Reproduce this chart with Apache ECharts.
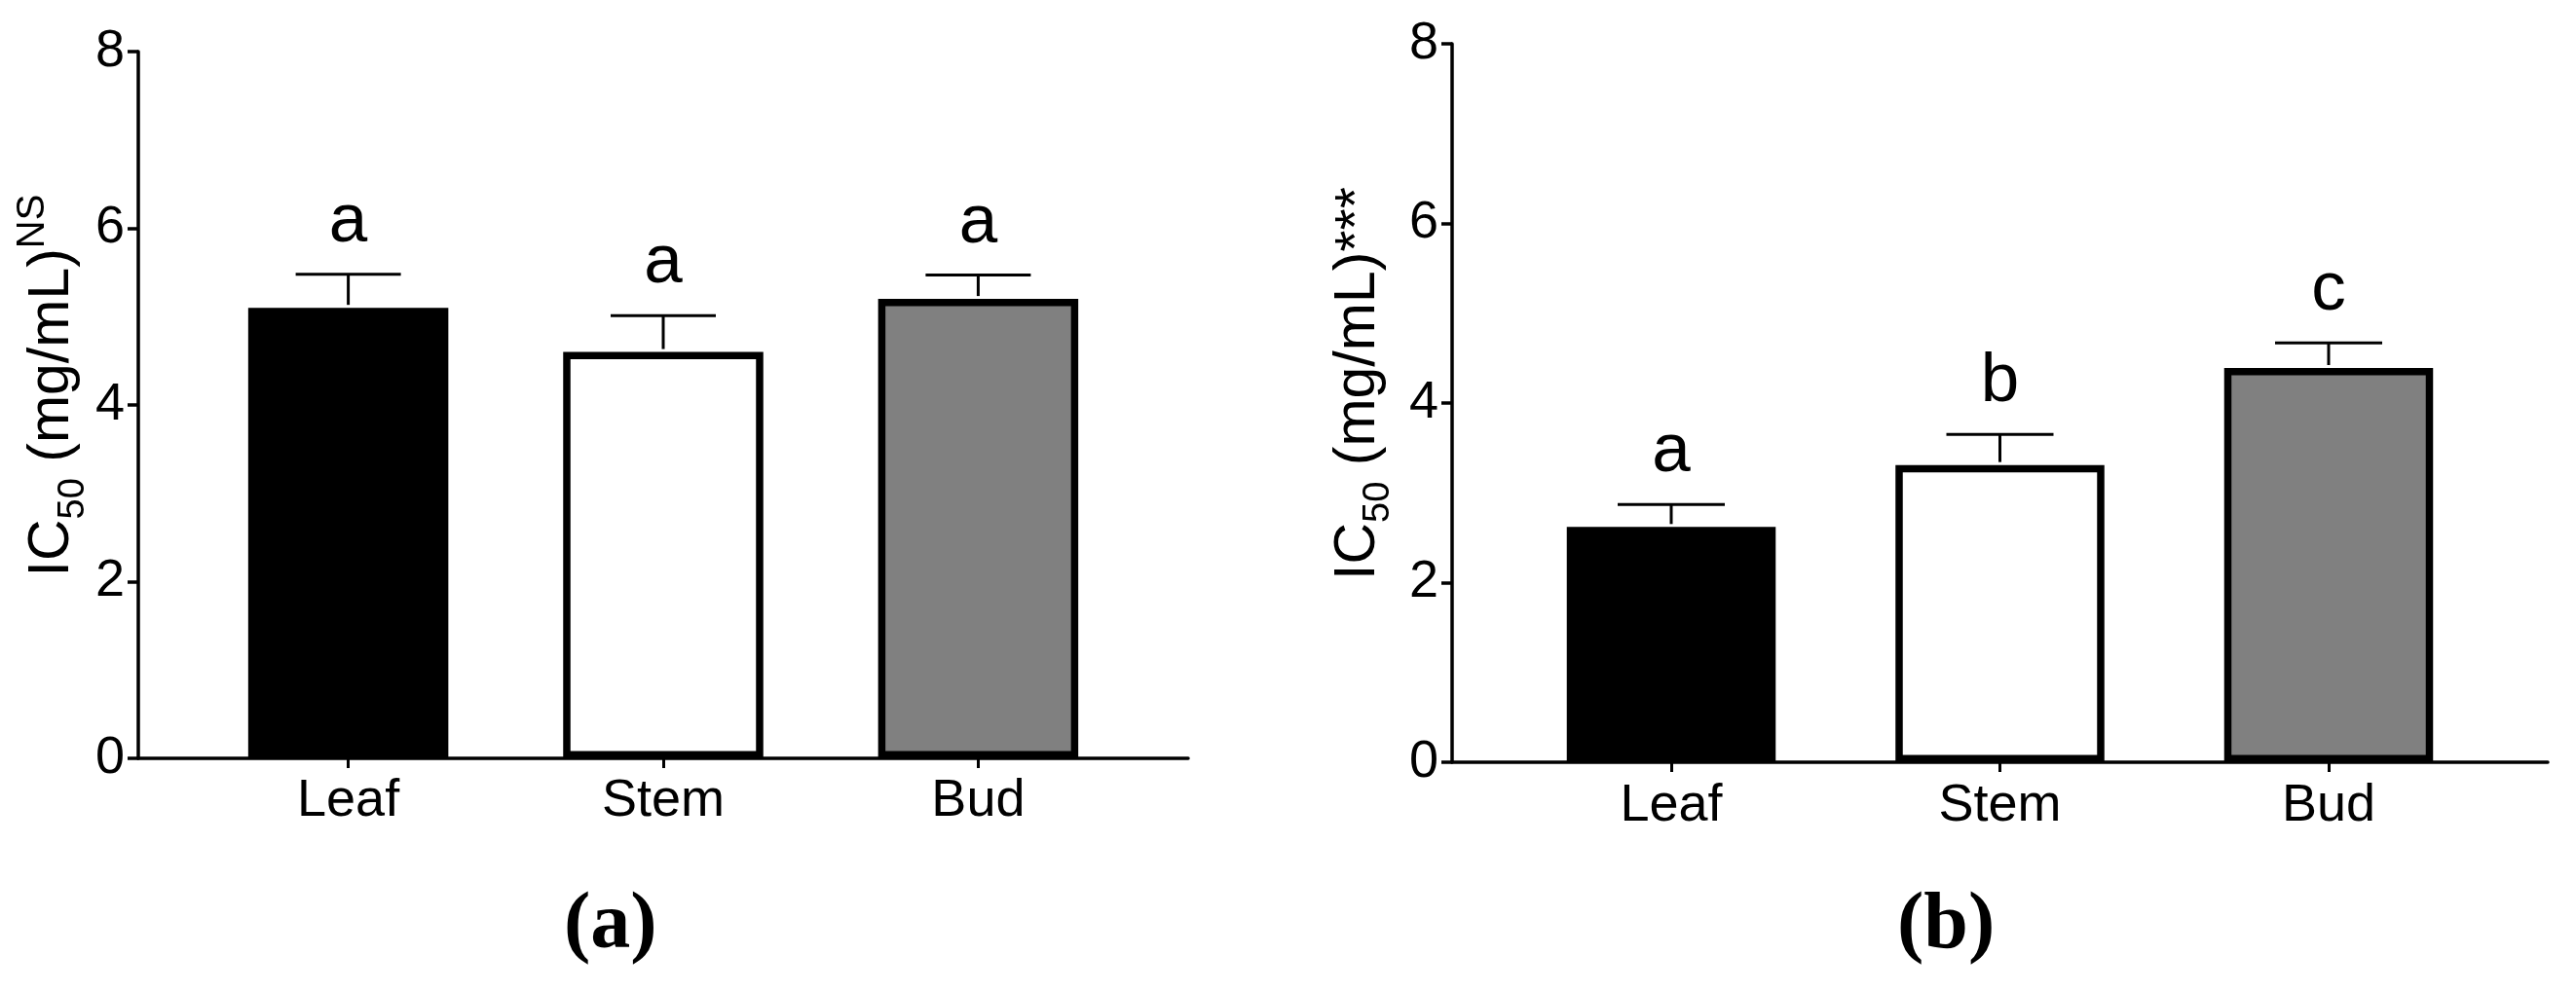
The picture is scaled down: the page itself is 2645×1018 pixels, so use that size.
<!DOCTYPE html>
<html>
<head>
<meta charset="utf-8">
<script src="https://cdn.jsdelivr.net/npm/echarts@6/dist/echarts.min.js"></script>
<style>
html,body{margin:0;padding:0;background:#fff;}
#chart{width:2645px;height:1018px;}
</style>
</head>
<body>
<div id="chart"></div>
<script>
// ---- data ----
const categories = ['Leaf', 'Stem', 'Bud'];
const catPositions = [1, 2, 3];
const yTickValues = [0, 2, 4, 6, 8];

const meanA = [5.10, 4.60, 5.20];
const semA = [0.38, 0.41, 0.27];
const lettersA = ['a', 'a', 'a'];

const meanB = [2.62, 3.31, 4.39];
const semB = [0.25, 0.34, 0.28];
const lettersB = ['a', 'b', 'c'];

const panelLabels = ['(a)', '(b)'];

// ---- chart ----
const FONT = "'Liberation Sans', Arial, Helvetica, sans-serif";
const SERIF = "'Liberation Serif', 'Times New Roman', serif";
const barFills = ['#000000', '#ffffff', '#808080'];

const chart = echarts.init(document.getElementById('chart'), null, {renderer: 'canvas'});

function yAxisCfg(gridIndex, supText, supStyle, gap) {
  return {
    type: 'value', gridIndex: gridIndex, min: yTickValues[0], max: yTickValues[yTickValues.length - 1], interval: 2,
    axisLine: {show: true, onZero: false, lineStyle: {color: '#000', width: 3.5}},
    axisTick: {show: true, inside: false, length: 11, lineStyle: {color: '#000', width: 3.5}},
    axisLabel: {show: true, margin: 14, color: '#000', fontSize: 54, fontFamily: FONT},
    splitLine: {show: false},
    name: '{m|IC}{sub|50}{m| (mg/mL)}{' + supStyle + '|' + supText + '}',
    nameLocation: 'middle',
    nameRotate: 90,
    nameGap: gap,
    nameTextStyle: {
      color: '#000', fontFamily: FONT, fontSize: 59, padding: [0, 0, 0, 40],
      rich: {
        m: {fontSize: 59, fontFamily: FONT, color: '#000', lineHeight: 80, verticalAlign: 'middle'},
        sub: {fontSize: 38, fontFamily: FONT, color: '#000', verticalAlign: 'bottom'},
        sup: {fontSize: 40, fontFamily: FONT, color: '#000', verticalAlign: 'top'},
        ast: {fontSize: 57, fontFamily: FONT, color: '#000', verticalAlign: 'middle'}
      }
    }
  };
}

function xAxisCfg(gridIndex, margin) {
  return {
    type: 'value', gridIndex: gridIndex, min: 1 / 3, max: 11 / 3,
    axisLine: {show: true, onZero: false, lineStyle: {color: '#000', width: 3.5}},
    axisTick: {show: true, inside: false, length: 10, customValues: catPositions, lineStyle: {color: '#000', width: 3}},
    axisLabel: {
      show: true, margin: margin, color: '#000', fontSize: 54, fontFamily: FONT,
      customValues: catPositions, verticalAlign: 'top',
      formatter: function (v) { const i = catPositions.indexOf(Math.round(v)); return i >= 0 ? categories[i] : ''; }
    },
    splitLine: {show: false}
  };
}

function barSeries(idx, means, barWidth) {
  return {
    type: 'bar', xAxisIndex: idx, yAxisIndex: idx,
    barWidth: barWidth,
    data: means.map(function (m, i) {
      return {
        value: [catPositions[i], m],
        itemStyle: {color: barFills[i], borderColor: '#000', borderWidth: 7.5}
      };
    }),
    emphasis: {disabled: true},
    z: 2
  };
}

function errSeries(idx, means, sems, letters, capWidth) {
  return {
    type: 'custom', xAxisIndex: idx, yAxisIndex: idx, clip: false, z: 3,
    data: means.map(function (m, i) { return [catPositions[i], m, m + sems[i]]; }),
    renderItem: function (params, api) {
      const x = api.value(0), y0 = api.value(1), y1 = api.value(2);
      const p0 = api.coord([x, y0]);
      const p1 = api.coord([x, y1]);
      const h = capWidth / 2;
      return {
        type: 'group',
        children: [
          {type: 'line', shape: {x1: p0[0], y1: p0[1] - 3, x2: p1[0], y2: p1[1]}, style: {stroke: '#000', lineWidth: 3}},
          {type: 'line', shape: {x1: p1[0] - h, y1: p1[1], x2: p1[0] + h, y2: p1[1]}, style: {stroke: '#000', lineWidth: 3}},
          {type: 'text', style: {
            text: letters[params.dataIndex], x: p1[0], y: p1[1] - 18,
            align: 'center', verticalAlign: 'bottom', textAlign: 'center', textVerticalAlign: 'bottom',
            fontSize: 71, fontFamily: FONT, fill: '#000'
          }}
        ]
      };
    }
  };
}

const option = {
  animation: false,
  backgroundColor: '#ffffff',
  grid: [
    {left: 142, top: 53, width: 1078, height: 726, containLabel: false},
    {left: 1491, top: 45, width: 1125, height: 738, containLabel: false}
  ],
  xAxis: [xAxisCfg(0, 17), xAxisCfg(1, 18)],
  yAxis: [yAxisCfg(0, 'NS', 'sup', 44), yAxisCfg(1, '***', 'ast', 56)],
  series: [
    barSeries(0, meanA, 205.5),
    errSeries(0, meanA, semA, lettersA, 108),
    barSeries(1, meanB, 214.5),
    errSeries(1, meanB, semB, lettersB, 110)
  ],
  graphic: [
    {type: 'text', left: 621 - 42, top: 911, style: {text: panelLabels[0], font: 'bold 82px ' + SERIF, fill: '#000'}},
    {type: 'text', left: 1990 - 42, top: 911, style: {text: panelLabels[1], font: 'bold 82px ' + SERIF, fill: '#000'}}
  ]
};
chart.setOption(option);
</script>
</body>
</html>
